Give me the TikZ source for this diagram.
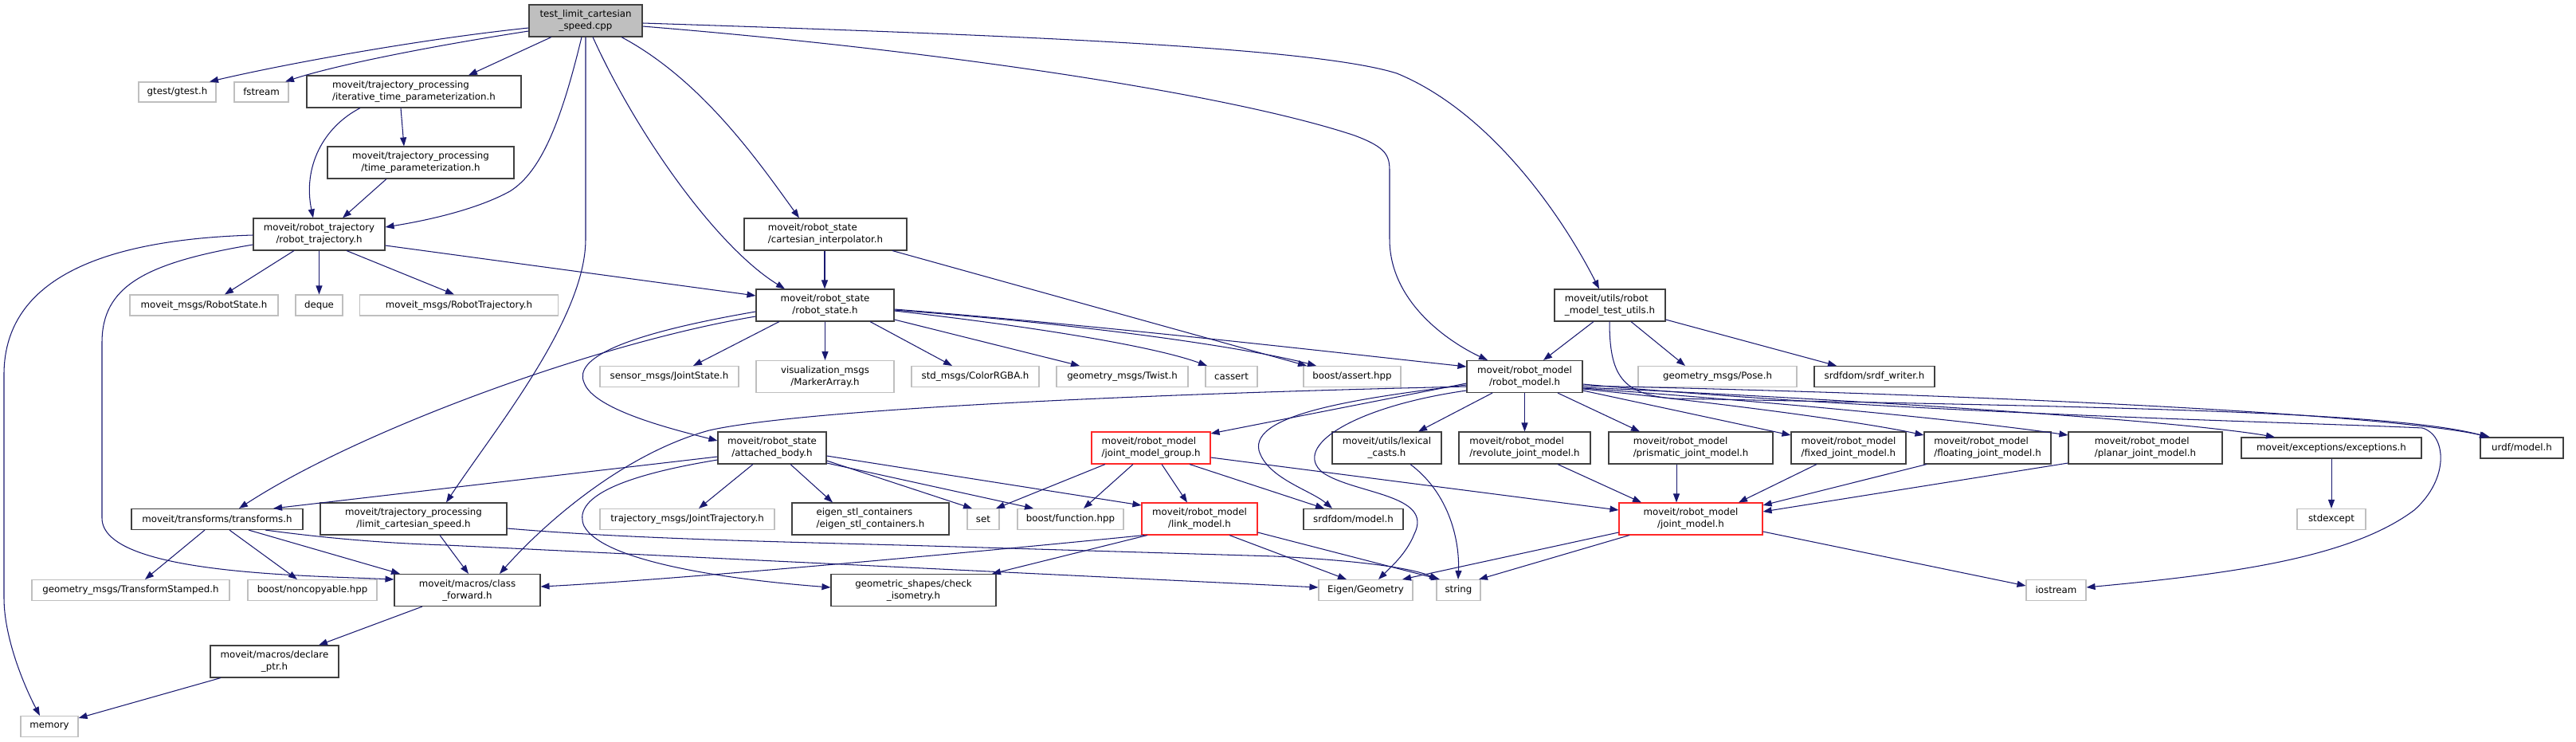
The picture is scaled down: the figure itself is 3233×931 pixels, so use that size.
\documentclass[tikz,border=0pt]{standalone}
\usepackage{fontspec}
\setmainfont{DejaVu Sans}
\usetikzlibrary{arrows.meta}
\definecolor{mb}{RGB}{25,25,112}
\definecolor{gbord}{RGB}{191,191,191}
\definecolor{dbord}{RGB}{64,64,64}
\definecolor{mainfill}{RGB}{191,191,191}
\definecolor{rbord}{RGB}{255,40,40}
\tikzset{
  base/.style={rectangle, inner sep=0pt, line width=1.1pt, fill=white, font=\fontsize{11.8}{15}\selectfont},
  docn/.style={base, draw=dbord},
  extn/.style={base, draw=gbord},
  redn/.style={base, draw=rbord},
  mainn/.style={base, draw=dbord, fill=mainfill},
  conn/.style={draw=mb, line width=1.05pt, -{Triangle[length=11pt,width=8pt,fill=mb]}},
}
\begin{document}
\begin{tikzpicture}[x=1pt,y=-1pt]
\useasboundingbox (0,0) rectangle (3233,931);
% nodes
\node[mainn, minimum width=142, minimum height=40, align=center] (T) at (735,26) {test\_limit\_cartesian\\\_speed.cpp};
\node[extn, minimum width=97, minimum height=25] (gtest) at (222.5,115.5) {gtest/gtest.h};
\node[extn, minimum width=68, minimum height=25] (fstream) at (328,115.5) {fstream};
\node[docn, minimum width=269, minimum height=40, align=left] (ITP) at (519.5,115) {moveit/trajectory\_processing\\/iterative\_time\_parameterization.h};
\node[docn, minimum width=234, minimum height=40, align=center] (TP) at (528,204) {moveit/trajectory\_processing\\/time\_parameterization.h};
\node[docn, minimum width=165, minimum height=40, align=center] (RT) at (400.5,294) {moveit/robot\_trajectory\\/robot\_trajectory.h};
\node[extn, minimum width=186, minimum height=26] (RSM) at (256,383) {moveit\_msgs/RobotState.h};
\node[extn, minimum width=59, minimum height=26] (DQ) at (400.5,383) {deque};
\node[extn, minimum width=249, minimum height=26] (RTM) at (576,383) {moveit\_msgs/RobotTrajectory.h};
\node[docn, minimum width=204, minimum height=40, align=left] (CI) at (1036,294) {moveit/robot\_state\\/cartesian\_interpolator.h};
\node[docn, minimum width=173, minimum height=40, align=center] (RS) at (1035.5,383) {moveit/robot\_state\\/robot\_state.h};
\node[docn, minimum width=139, minimum height=40, align=left] (TU) at (2020.5,383) {moveit/utils/robot\\\_model\_test\_utils.h};
\node[extn, minimum width=174, minimum height=26] (JS) at (840,472.5) {sensor\_msgs/JointState.h};
\node[extn, minimum width=173, minimum height=40, align=center] (VIS) at (1035.5,472.5) {visualization\_msgs\\/MarkerArray.h};
\node[extn, minimum width=160, minimum height=26] (COL) at (1224,472.5) {std\_msgs/ColorRGBA.h};
\node[extn, minimum width=165, minimum height=26] (TW) at (1408.5,472.5) {geometry\_msgs/Twist.h};
\node[extn, minimum width=65, minimum height=26] (CAS) at (1545.5,472.5) {cassert};
\node[extn, minimum width=122, minimum height=26] (BA) at (1697,472.5) {boost/assert.hpp};
\node[docn, minimum width=145, minimum height=40, align=center] (RM) at (1913.5,472.5) {moveit/robot\_model\\/robot\_model.h};
\node[extn, minimum width=199, minimum height=26] (POSE) at (2155.5,472.5) {geometry\_msgs/Pose.h};
\node[docn, minimum width=151, minimum height=26] (SW) at (2352.5,472.5) {srdfdom/srdf\_writer.h};
\node[docn, minimum width=136, minimum height=40, align=center] (AB) at (969,562) {moveit/robot\_state\\/attached\_body.h};
\node[redn, minimum width=149, minimum height=40, align=left] (JMG) at (1444.5,562) {moveit/robot\_model\\/joint\_model\_group.h};
\node[docn, minimum width=137, minimum height=40, align=center] (LC) at (1740.5,562) {moveit/utils/lexical\\\_casts.h};
\node[docn, minimum width=165, minimum height=40, align=left] (RJ) at (1913.5,562) {moveit/robot\_model\\/revolute\_joint\_model.h};
\node[docn, minimum width=206, minimum height=40, align=left] (PJ) at (2122,562) {moveit/robot\_model\\/prismatic\_joint\_model.h};
\node[docn, minimum width=144, minimum height=40, align=left] (FJ) at (2320,562) {moveit/robot\_model\\/fixed\_joint\_model.h};
\node[docn, minimum width=159, minimum height=40, align=left] (FL) at (2494.5,562) {moveit/robot\_model\\/floating\_joint\_model.h};
\node[docn, minimum width=193, minimum height=40, align=left] (PL) at (2692.5,562) {moveit/robot\_model\\/planar\_joint\_model.h};
\node[docn, minimum width=226, minimum height=26] (EXC) at (2926,562) {moveit/exceptions/exceptions.h};
\node[docn, minimum width=104, minimum height=26] (URDF) at (3165,562) {urdf/model.h};
\node[docn, minimum width=215, minimum height=26] (TF) at (272.5,651.5) {moveit/transforms/transforms.h};
\node[docn, minimum width=234, minimum height=40, align=center] (LCS) at (519,651) {moveit/trajectory\_processing\\/limit\_cartesian\_speed.h};
\node[extn, minimum width=219, minimum height=26] (JT) at (862.5,651.5) {trajectory\_msgs/JointTrajectory.h};
\node[docn, minimum width=197, minimum height=40, align=left] (ESC) at (1092.5,651) {eigen\_stl\_containers\\/eigen\_stl\_containers.h};
\node[extn, minimum width=40, minimum height=26] (SET) at (1234,651.5) {set};
\node[extn, minimum width=133, minimum height=26] (BF) at (1343.5,651.5) {boost/function.hpp};
\node[redn, minimum width=145, minimum height=40, align=center] (LM) at (1505.5,651) {moveit/robot\_model\\/link\_model.h};
\node[docn, minimum width=125, minimum height=26] (SRDF) at (1698.5,651.5) {srdfdom/model.h};
\node[redn, minimum width=180, minimum height=40, align=center] (JM) at (2122,651) {moveit/robot\_model\\/joint\_model.h};
\node[extn, minimum width=86, minimum height=26] (STDX) at (2926,651.5) {stdexcept};
\node[extn, minimum width=248, minimum height=26] (TS) at (164,740.5) {geometry\_msgs/TransformStamped.h};
\node[extn, minimum width=162, minimum height=26] (NC) at (392,740.5) {boost/noncopyable.hpp};
\node[docn, minimum width=183, minimum height=40, align=center] (CF) at (586.5,740.5) {moveit/macros/class\\\_forward.h};
\node[docn, minimum width=207, minimum height=40, align=center] (CHK) at (1146.5,740.5) {geometric\_shapes/check\\\_isometry.h};
\node[extn, minimum width=118, minimum height=26] (EIG) at (1714,740.5) {Eigen/Geometry};
\node[extn, minimum width=55, minimum height=26] (STR) at (1830.5,740.5) {string};
\node[extn, minimum width=75, minimum height=26] (IOS) at (2580.5,740.5) {iostream};
\node[docn, minimum width=161, minimum height=40, align=center] (DP) at (344.5,830) {moveit/macros/declare\\\_ptr.h};
\node[extn, minimum width=72, minimum height=26] (MEM) at (62,911.5) {memory};
% edges from main file
\draw[conn] (T.west |- 0,35) .. controls (520,50) and (350,82) .. (gtest.north -| 263,0);
\draw[conn] (T.west |- 0,39) .. controls (540,58) and (420,82) .. (fstream.north -| 358,0);
\draw[conn] (T.south -| 692,0) -- (ITP.north -| 588,0);
\draw[conn] (T.south -| 730,0) .. controls (705,150) and (680,215) .. (640,240) .. controls (600,262) and (540,276) .. (RT.east |- 0,285);
\draw[conn] (T.south -| 735,0) -- (735,300) .. controls (735,400) and (620,540) .. (LCS.north -| 560,0);
\draw[conn] (T.south -| 744,0) .. controls (800,170) and (900,310) .. (RS.north -| 985,0);
\draw[conn] (T.south -| 780,0) .. controls (880,100) and (950,200) .. (CI.north -| 1003,0);
\draw[conn] (T.east |- 0,29) .. controls (1300,45) and (1650,60) .. (1753,92) .. controls (1870,140) and (1960,270) .. (TU.north -| 2007,0);
\draw[conn] (T.east |- 0,33) .. controls (1200,65) and (1550,120) .. (1700,170) .. controls (1740,185) and (1744,195) .. (1744,215) -- (1744,300) .. controls (1744,380) and (1820,430) .. (RM.north -| 1867,0);
% trajectory processing
\draw[conn] (ITP.south -| 503,0) -- (TP.north -| 507,0);
\draw[conn] (ITP.south -| 452,0) .. controls (405,160) and (380,210) .. (RT.north -| 393,0);
\draw[conn] (TP.south -| 485,0) -- (RT.north -| 430,0);
% robot trajectory
\draw[conn] (RT.south -| 369,0) -- (RSM.north -| 282,0);
\draw[conn] (RT) -- (DQ);
\draw[conn] (RT.south -| 435,0) -- (RTM.north -| 570,0);
\draw[conn] (RT.east |- 0,308) -- (RS.west |- 0,371);
\draw[conn] (RT.west |- 0,295) .. controls (150,300) and (5,340) .. (5,470) -- (5,750) .. controls (5,800) and (30,860) .. (MEM.north -| 50,0);
\draw[conn] (RT.west |- 0,307) .. controls (180,330) and (128,360) .. (128,430) -- (128,650) .. controls (128,720) and (380,722) .. (CF.west |- 0,727);
% cartesian interpolator
\draw[conn] (CI.south -| 1035,0) -- (RS.north -| 1035,0);
\draw[conn] (CI.south -| 1120,0) -- (BA.north -| 1640,0);
% robot state
\draw[conn] (RS.south -| 978,0) -- (JS.north -| 870,0);
\draw[conn] (RS) -- (VIS);
\draw[conn] (RS.south -| 1092,0) -- (COL.north -| 1195,0);
\draw[conn] (RS.east |- 0,401) -- (TW.north -| 1355,0);
\draw[conn] (RS.east |- 0,390) .. controls (1300,410) and (1450,435) .. (CAS.north -| 1515,0);
\draw[conn] (RS.east |- 0,389) .. controls (1400,410) and (1580,440) .. (BA.north -| 1652,0);
\draw[conn] (RS.east |- 0,388) .. controls (1400,410) and (1700,445) .. (RM.west |- 0,460);
\draw[conn] (RS.west |- 0,397) .. controls (750,430) and (450,540) .. (TF.north -| 300,0);
\draw[conn] (RS.west |- 0,391) .. controls (780,420) and (720,450) .. (733,480) .. controls (745,515) and (850,540) .. (AB.west |- 0,553);
% attached body
\draw[conn] (AB.south -| 945,0) -- (JT.north -| 877,0);
\draw[conn] (AB.south -| 992,0) -- (ESC.north -| 1045,0);
\draw[conn] (AB.east |- 0,578) -- (SET.north -| 1220,0);
\draw[conn] (AB.east |- 0,581) -- (BF.north -| 1297,0);
\draw[conn] (AB.east |- 0,572) -- (LM.west |- 0,634);
\draw[conn] (AB.west |- 0,573) -- (TF.north -| 343,0);
\draw[conn] (AB.west |- 0,577) .. controls (760,600) and (720,630) .. (733,660) .. controls (760,710) and (950,730) .. (CHK.west |- 0,737);
% robot model
\draw[conn] (RM.west |- 0,481) -- (JMG.east |- 0,544);
\draw[conn] (RM.west |- 0,485) .. controls (1400,495) and (1000,515) .. (890,540) .. controls (780,570) and (680,660) .. (CF.north -| 627,0);
\draw[conn] (RM.west |- 0,483) .. controls (1700,500) and (1570,520) .. (1580,565) .. controls (1590,600) and (1645,615) .. (SRDF.north -| 1672,0);
\draw[conn] (RM.west |- 0,490) .. controls (1700,510) and (1620,560) .. (1660,593) .. controls (1700,620) and (1800,620) .. (1775,670) .. controls (1765,695) and (1745,712) .. (EIG.north -| 1730,0);
\draw[conn] (RM.south -| 1873,0) -- (LC.north -| 1780,0);
\draw[conn] (RM) -- (RJ);
\draw[conn] (RM.south -| 1955,0) -- (PJ.north -| 2058,0);
\draw[conn] (RM.east |- 0,490) -- (FJ.west |- 0,546);
\draw[conn] (RM.east |- 0,488) .. controls (2200,510) and (2350,532) .. (FL.west |- 0,546);
\draw[conn] (RM.east |- 0,487) .. controls (2300,510) and (2500,532) .. (PL.west |- 0,546);
\draw[conn] (RM.east |- 0,486) .. controls (2400,505) and (2750,530) .. (EXC.north -| 2855,0);
\draw[conn] (RM.east |- 0,484) .. controls (2500,495) and (3000,520) .. (URDF.north -| 3125,0);
\draw[conn] (RM.east |- 0,482) .. controls (2400,520) and (2900,530) .. (3040,537) .. controls (3070,545) and (3075,600) .. (3030,640) .. controls (2950,700) and (2800,720) .. (IOS.east |- 0,737);
% test utils
\draw[conn] (TU.south -| 2020,0) .. controls (2020,470) and (2035,495) .. (2100,500) .. controls (2600,510) and (3000,515) .. (URDF.north -| 3123,0);
\draw[conn] (TU.south -| 2000,0) -- (RM.north -| 1937,0);
\draw[conn] (TU.south -| 2047,0) -- (POSE.north -| 2115,0);
\draw[conn] (TU.east |- 0,401) -- (SW.north -| 2305,0);
\draw[conn] (EXC) -- (STDX);
% joint model group
\draw[conn] (JMG.south -| 1387,0) -- (SET.north -| 1250,0);
\draw[conn] (JMG.south -| 1422,0) -- (BF.north -| 1360,0);
\draw[conn] (JMG.south -| 1458,0) -- (LM.north -| 1490,0);
\draw[conn] (JMG.east |- 0,574) -- (JM.west |- 0,640);
\draw[conn] (JMG.south -| 1493,0) -- (SRDF.north -| 1662,0);
% link model
\draw[conn] (LM.south -| 1436,0) .. controls (1100,705) and (800,730) .. (CF.east |- 0,736);
\draw[conn] (LM.south -| 1440,0) -- (CHK.north -| 1245,0);
\draw[conn] (LM.south -| 1543,0) -- (EIG.north -| 1690,0);
\draw[conn] (LM.east |- 0,668) -- (STR.north -| 1807,0);
% transforms
\draw[conn] (TF.south -| 333,0) .. controls (430,678) and (500,682) .. (560,684) -- (EIG.west |- 0,737);
\draw[conn] (TF.south -| 312,0) -- (CF.north -| 502,0);
\draw[conn] (TF.south -| 257,0) -- (TS.north -| 182,0);
\draw[conn] (TF.south -| 288,0) -- (NC.north -| 373,0);
% limit cartesian speed
\draw[conn] (LCS.south -| 552,0) -- (CF.north -| 588,0);
\draw[conn] (LCS.east |- 0,663) .. controls (800,677) and (1000,680) .. (1200,686) -- (1600,698) .. controls (1700,703) and (1770,712) .. (STR.north -| 1805,0);
% joint models
\draw[conn] (RJ.south -| 1955,0) -- (JM.north -| 2060,0);
\draw[conn] (PJ.south -| 2104,0) -- (JM.north -| 2104,0);
\draw[conn] (FJ.south -| 2280,0) -- (JM.north -| 2182,0);
\draw[conn] (FL.south -| 2418,0) -- (JM.east |- 0,634);
\draw[conn] (PL.west |- 0,581) -- (JM.east |- 0,642);
\draw[conn] (JM.west |- 0,668) -- (EIG.north -| 1760,0);
\draw[conn] (JM.south -| 2045,0) -- (STR.north -| 1856,0);
\draw[conn] (JM.east |- 0,667) -- (IOS.west |- 0,735);
\draw[conn] (LC.south -| 1770,0) .. controls (1820,620) and (1832,680) .. (STR.north -| 1830,0);
% macros
\draw[conn] (CF.south -| 530,0) -- (DP.north -| 400,0);
\draw[conn] (DP.south -| 277,0) -- (MEM.east |- 0,901);
\end{tikzpicture}
\end{document}
